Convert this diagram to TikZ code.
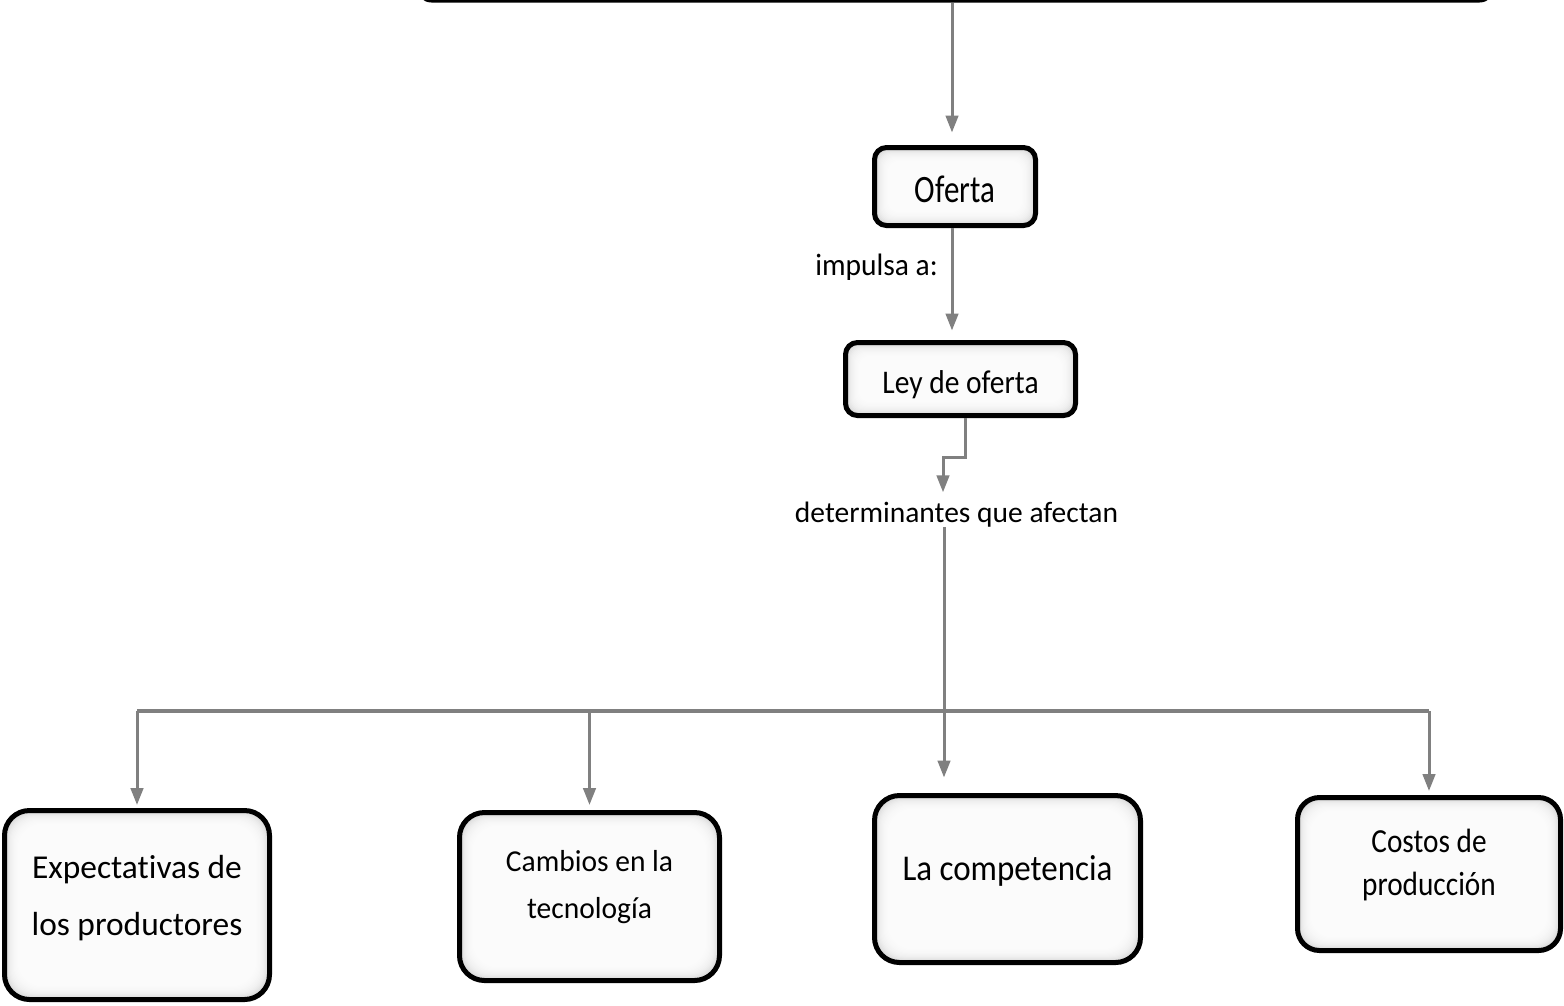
\documentclass[tikz,border=0pt]{standalone}
\usepackage{fontspec}
\setmainfont{Carlito}[Ligatures=NoCommon]
\usepackage{graphicx}
\usetikzlibrary{arrows.meta}
\newcommand\tb[3]{\raisebox{#1}[0pt][0pt]{\scalebox{1}[#2]{#3}}}
\tikzset{
  ln/.style={draw=gray, line width=3pt},
  arr/.style={ln, -{Triangle[length=17pt,width=12.5pt]}},
  glow/.style={path picture={\foreach \k in {3,...,15}{\fill[white,opacity=0.2,rounded corners=#1] ([shift={(\k pt,-\k pt)}]path picture bounding box.north west) rectangle ([shift={(-\k pt,\k pt)}]path picture bounding box.south east);}}},
  box/.style={draw=black, line width=5pt, fill=gray!25, inner sep=0pt, rounded corners=#1, glow=#1},
  topbox/.style={draw=black, line width=3pt, fill=white, rounded corners=14pt, inner sep=0pt},
  lbl/.style={anchor=base, inner sep=0pt}
}
\begin{document}
\begin{tikzpicture}[x=1pt,y=-1pt]
\useasboundingbox (0,0) rectangle (1564,1005);

\node[topbox, minimum width=1076pt, minimum height=80pt] (top) at (955.5,-39) {};

\node[box=12pt, minimum width=161pt, minimum height=78pt, font=\fontsize{31}{37}\selectfont] (oferta) at (955,186.5) {\tb{-15.5pt}{1.25}{Oferta}};

\node[box=12pt, minimum width=230pt, minimum height=73pt, font=\fontsize{29.5}{35}\selectfont] (ley) at (960.5,379) {\tb{-14pt}{1.12}{Ley de oferta}};

\node[lbl, font=\fontsize{29.5}{35}\selectfont] (imp) at (876.5,275) {\scalebox{1}[1.05]{impulsa a:}};
\node[lbl, font=\fontsize{29.5}{35}\selectfont] (det) at (956.5,522) {determinantes que afectan};

\node[box=25pt, minimum width=265pt, minimum height=189pt, font=\fontsize{33.4}{57}\selectfont] (expe) at (137,905) {\tb{-30pt}{1}{\begin{tabular}[b]{@{}c@{}}Expectativas de\\los productores\end{tabular}}};

\node[box=25pt, minimum width=260pt, minimum height=168pt, font=\fontsize{29.5}{45}\selectfont] (camb) at (589.5,896.5) {\tb{-21.5pt}{1.03}{\begin{tabular}[b]{@{}c@{}}Cambios en la\\tecnología\end{tabular}}};

\node[box=25pt, minimum width=266pt, minimum height=167pt, font=\fontsize{33}{40}\selectfont] (comp) at (1007.5,879) {\tb{-1pt}{1.1}{La competencia}};

\node[box=22pt, minimum width=263pt, minimum height=153pt, font=\fontsize{29.3}{37.4}\selectfont] (cost) at (1429,874) {\tb{-21pt}{1.15}{\begin{tabular}[b]{@{}c@{}}Costos de\\producción\end{tabular}}};

\coordinate (bus) at (944,711);

\draw[arr, shorten >=12.5pt] ([xshift=-3.5pt]top.south) -- ([xshift=-3.5pt]top.south |- oferta.north);
\draw[arr, shorten >=9.5pt] ([xshift=-3pt]oferta.south) -- ([xshift=-3pt]oferta.south |- ley.north);
\draw[arr, shorten >=9pt] ([xshift=4.5pt]ley.south) -- ++(0,39.5) -| ([xshift=-13.5pt]det.north);
\draw[ln] ([xshift=-12.5pt]det.south) -- (bus);
\draw[arr, shorten >=15.5pt] (bus) -- (bus |- comp.north);
\draw[ln, line width=3.5pt] (bus -| expe.north) -- (bus -| cost.north);
\draw[arr, shorten >=3pt] (bus -| expe.north) -- (expe.north);
\draw[arr, shorten >=5pt] (bus -| camb.north) -- (camb.north);
\draw[arr, shorten >=4pt] (bus -| cost.north) -- (cost.north);
\end{tikzpicture}
\end{document}
